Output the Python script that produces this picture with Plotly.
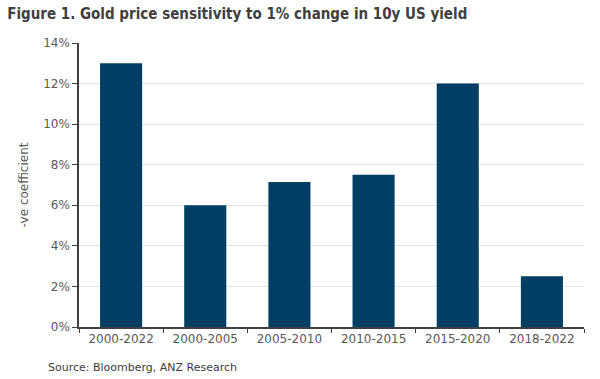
import plotly.graph_objects as go

periods = ["2000-2022", "2000-2005", "2005-2010", "2010-2015", "2015-2020", "2018-2022"]
coefficients = [13.0, 6.0, 7.15, 7.5, 12.0, 2.5]
y_ticks = [0, 2, 4, 6, 8, 10, 12, 14]
y_tick_labels = [f"{v}%" for v in y_ticks]

font_family = "DejaVu Sans, Verdana, sans-serif"

fig = go.Figure(go.Bar(x=periods, y=coefficients, marker=dict(color="#003f63", line=dict(width=0))))

fig.update_layout(
    width=600, height=379,
    margin=dict(l=79, r=16, t=43, b=52, autoexpand=False),
    paper_bgcolor="white", plot_bgcolor="white",
    bargap=0.5,
    showlegend=False,
    font=dict(family=font_family, color="#595959", size=12),
    title=dict(text="<b>Figure 1. Gold price sensitivity to 1% change in 10y US yield</b>",
               x=0.012, xanchor="left", y=0.963, yanchor="middle",
               font=dict(family="DejaVu Sans Condensed, DejaVu Sans, sans-serif", size=15, color="#404040")),
    xaxis=dict(showline=True, linecolor="#404040", linewidth=1.5, ticks="outside", tickson="boundaries",
               ticklen=4, tickcolor="#404040", showgrid=False,
               tickfont=dict(size=12, color="#595959")),
    yaxis=dict(range=[0, 14], tickvals=y_ticks, ticktext=y_tick_labels,
               showline=True, linecolor="#404040", linewidth=1.5, ticks="outside", ticklen=5,
               tickcolor="#404040", showgrid=True, gridcolor="#dde4ec", gridwidth=1,
               zeroline=False, tickfont=dict(size=12, color="#595959"),
               title=dict(text="-ve coefficient", standoff=12, font=dict(size=12, color="#595959"))),
    annotations=[dict(text="Source: Bloomberg, ANZ Research", xref="paper", yref="paper",
                      x=-0.065, y=-0.144, xanchor="left", yanchor="middle", showarrow=False,
                      font=dict(family=font_family, size=11, color="#404040"))],
)

fig.write_html("out.html", config={"displayModeBar": False},
               post_script="document.body.style.margin='0';")
